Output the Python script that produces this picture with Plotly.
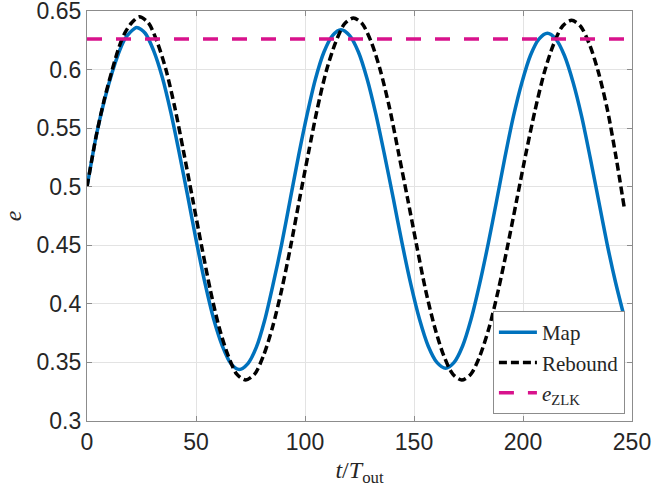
import plotly.graph_objects as go

# ---- data ----
map_t = [0, 2.2, 4.4, 8.0, 11.6, 14.3, 17.0, 19.9, 22.8,
         26.7, 30.6, 34.6, 38.5, 42.4, 46.4, 50.3, 54.2, 58.1, 62.1, 66.0, 69.9,
         73.8, 77.7, 81.5, 85.4, 89.3, 93.2, 97.1, 101.0, 104.8, 108.7, 112.6, 116.5,
         120.5, 124.5, 128.5, 132.5, 136.5, 140.5, 144.5, 148.5, 152.5, 156.5, 160.5, 164.5,
         168.4, 172.3, 176.2, 180.1, 184.0, 187.9, 191.7, 195.6, 199.5, 203.4, 207.3, 211.2,
         215.1, 219.0, 223.0, 226.9, 230.8, 234.7, 238.6, 242.5, 246.0]
map_e = [0.500, 0.523, 0.545, 0.574, 0.598, 0.613, 0.625, 0.632, 0.636,
         0.631, 0.616, 0.593, 0.563, 0.528, 0.490, 0.452, 0.417, 0.387, 0.364, 0.349, 0.344,
         0.349, 0.363, 0.386, 0.417, 0.451, 0.489, 0.527, 0.562, 0.592, 0.615, 0.629, 0.634,
         0.629, 0.615, 0.592, 0.562, 0.527, 0.490, 0.452, 0.417, 0.387, 0.364, 0.350, 0.345,
         0.350, 0.364, 0.387, 0.417, 0.451, 0.488, 0.525, 0.560, 0.589, 0.612, 0.626, 0.631,
         0.626, 0.612, 0.589, 0.560, 0.525, 0.488, 0.451, 0.418, 0.392]

reb_t = [0, 2.2, 4.4, 8.0, 11.6, 14.3, 17.0, 20.5, 24.0,
         28.1, 32.1, 36.2, 40.3, 44.3, 48.4, 52.5, 56.5, 60.6, 64.7, 68.7, 72.8,
         76.9, 81.0, 85.1, 89.3, 93.4, 97.5, 101.6, 105.7, 109.8, 114.0, 118.1, 122.2,
         126.3, 130.5, 134.6, 138.8, 142.9, 147.1, 151.2, 155.3, 159.5, 163.6, 167.8, 171.9,
         176.1, 180.3, 184.5, 188.7, 192.9, 197.1, 201.3, 205.5, 209.7, 213.9, 218.1, 222.3,
         226.4, 230.6, 234.7, 238.8, 242.7, 246.5]
reb_e = [0.500, 0.523, 0.545, 0.575, 0.600, 0.617, 0.630, 0.640, 0.645,
         0.640, 0.624, 0.600, 0.5675, 0.530, 0.490, 0.450, 0.4125, 0.380, 0.356, 0.340, 0.335,
         0.340, 0.356, 0.380, 0.412, 0.449, 0.4895, 0.529, 0.567, 0.599, 0.623, 0.639, 0.644,
         0.639, 0.623, 0.599, 0.567, 0.529, 0.4895, 0.450, 0.412, 0.380, 0.356, 0.340, 0.335,
         0.340, 0.356, 0.380, 0.412, 0.449, 0.4885, 0.528, 0.565, 0.597, 0.621, 0.637, 0.642,
         0.637, 0.621, 0.597, 0.565, 0.525, 0.4815]

zlk_t = [0, 250]
zlk_e = [0.626, 0.626]

x_ticks = [0, 50, 100, 150, 200, 250]
x_labels = ["0", "50", "100", "150", "200", "250"]
y_ticks = [0.3, 0.35, 0.4, 0.45, 0.5, 0.55, 0.6, 0.65]
y_labels = ["0.3", "0.35", "0.4", "0.45", "0.5", "0.55", "0.6", "0.65"]

fig = go.Figure()
fig.add_trace(go.Scatter(x=map_t, y=map_e, mode="lines", name="Map",
                         line=dict(color="#0072BD", width=3.5, shape="spline", smoothing=0.8)))
fig.add_trace(go.Scatter(x=reb_t, y=reb_e, mode="lines", name="Rebound",
                         line=dict(color="#000000", width=3.5, shape="spline", smoothing=0.8,
                                   dash="8px,4px")))
fig.add_trace(go.Scatter(x=zlk_t, y=zlk_e, mode="lines", name="<i>e</i><sub>ZLK</sub>",
                         line=dict(color="#D8128C", width=3.5, dash="15px,14px")))

axis_common = dict(
    showline=True, linecolor="#8c8c8c", linewidth=1.2, mirror="ticks",
    ticks="inside", ticklen=5, tickcolor="#8c8c8c", tickwidth=1,
    showgrid=True, gridcolor="#e3e3e3", gridwidth=1, zeroline=False,
    automargin=False, ticklabeloverflow="allow",
    tickfont=dict(family="Liberation Sans", size=23, color="#262626"),
)

fig.update_xaxes(range=[0, 250], tickvals=x_ticks, ticktext=x_labels,
                 title=dict(text="<i>t</i>/<i>T</i><sub>out</sub>",
                            font=dict(family="Liberation Serif", size=24, color="#262626"),
                            standoff=7),
                 **axis_common)
fig.update_yaxes(range=[0.3, 0.65], tickvals=y_ticks, ticktext=y_labels,
                 title=dict(text="<i>e</i>",
                            font=dict(family="Liberation Serif", size=24, color="#262626"),
                            standoff=16),
                 **axis_common)

fig.update_layout(
    width=656, height=496,
    margin=dict(l=87, r=24, t=11, b=75),
    paper_bgcolor="white", plot_bgcolor="white",
    showlegend=True,
    legend=dict(x=0.987, y=0.017, xanchor="right", yanchor="bottom",
                bgcolor="white", bordercolor="#8c8c8c", borderwidth=1,
                font=dict(family="Liberation Serif", size=21, color="#262626"),
                tracegroupgap=0, itemwidth=38),
)

fig.write_html("out.html", config={"displayModeBar": False},
               post_script="document.body.style.margin='0';document.body.style.overflow='hidden';")
